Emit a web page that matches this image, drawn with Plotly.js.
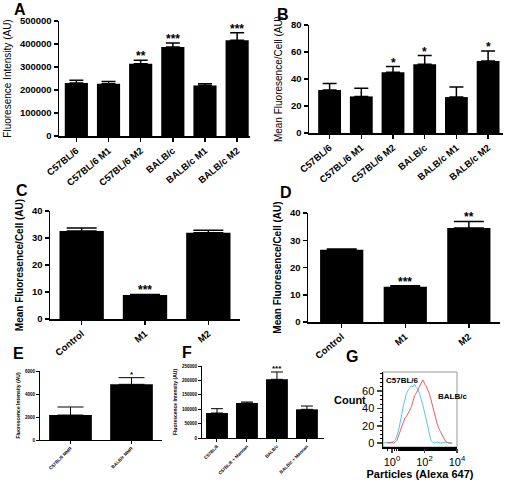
<!DOCTYPE html>
<html><head><meta charset="utf-8">
<script src="https://cdn.plot.ly/plotly-3.0.1.min.js"></script>
<style>html,body{margin:0;padding:0;background:#fff}#chart{width:507px;height:483px}</style>
</head><body><div id="chart"></div>
<script>
// ---------- DATA ----------
const strainCats = ['C57BL/6', 'C57BL/6 M1', 'C57BL/6 M2', 'BALB/c', 'BALB/c M1', 'BALB/c M2'];
const panelAVals = [230000, 227500, 314500, 387000, 220000, 416000];
const panelAErr  = [12000, 10000, 14500, 17000, 7000, 33000];
const panelASig  = ['', '', '**', '***', '', '***'];
const panelBVals = [31.8, 27.1, 45.0, 51.0, 26.6, 53.4];
const panelBErr  = [4.9, 6.1, 4.2, 6.4, 7.4, 7.4];
const panelBSig  = ['', '', '*', '*', '', '*'];
const polarCats  = ['Control', 'M1', 'M2'];
const panelCVals = [32.6, 8.9, 31.9];
const panelCErr  = [1.1, 0.2, 1.0];
const panelCSig  = ['', '***', ''];
const panelDVals = [26.5, 12.9, 34.5];
const panelDErr  = [0.3, 0.4, 2.4];
const panelDSig  = ['', '***', '**'];
const mmrCats    = ['C57BL/6 MMR', 'BALB/c MMR'];
const panelEVals = [2170, 4840];
const panelEErr  = [700, 580];
const panelESig  = ['', '*'];
const mannanCats = ['C57BL/6', 'C57BL/6 + Mannan', 'BALB/c', 'BALB/c + Mannan'];
const panelFVals = [86800, 121500, 203700, 99500];
const panelFErr  = [15000, 3500, 25500, 11500];
const panelFSig  = ['', '', '***', ''];
// Panel G histograms (particle intensity, count)
const c57Particles = [0.3, 0.5, 0.79, 1.0, 1.26, 1.6, 1.9, 2.5, 3.0, 4.0, 4.9, 6.3, 7.8, 10, 12.6, 15.5, 20, 24.5, 31.6, 39.8, 50, 63, 79, 100, 126, 158, 200, 251, 316, 398, 600, 1000, 2000, 5000];
const c57Count     = [0, 1, 0, 1, 2, 4, 7, 14, 23, 33, 42, 50, 57, 61, 64, 66, 65, 68, 64, 62, 57, 51, 44, 36, 27, 17, 9, 3, 1, 0, 1, 0, 1, 0];
const balbParticles = [0.5, 1.0, 1.26, 1.6, 2.0, 2.5, 3.2, 4.0, 5.0, 6.3, 7.9, 10, 12.6, 15.8, 20, 25, 31.6, 40, 50, 63, 79, 89, 100, 126, 158, 200, 251, 316, 398, 501, 631, 794, 1000, 1259, 1585, 1995, 2512, 3162, 5000];
const balbCount     = [0, 1, 0, 1, 3, 8, 15, 21, 26, 29, 31, 34, 38, 42, 49, 55, 58, 62, 66, 70, 73, 72, 68, 66, 62, 57, 50, 42, 34, 27, 21, 16, 12, 8, 4, 2, 1, 0, 0];
const histTickVals = [1, 100, 10000];
const histTickText = ['10<sup>0</sup>', '10<sup>2</sup>', '10<sup>4</sup>'];

// ---------- LAYOUT HELPERS ----------
const W = 507, H = 483;
const FONT = 'Liberation Sans, Arial, Helvetica, sans-serif';
const dx = (a, b) => [a / W, b / W];
const dy = (top, bottom) => [1 - bottom / H, 1 - top / H];

const traces = [];
const layout = {
  width: W, height: H, margin: {l: 0, r: 0, t: 0, b: 0},
  paper_bgcolor: '#fff', plot_bgcolor: 'rgba(0,0,0,0)',
  showlegend: false, font: {family: FONT, color: '#000'},
  annotations: [], shapes: []
};

function barPanel(n, cats, vals, errs, sigs, o) {
  const sx = n === 1 ? '' : String(n);
  const xa = 'x' + sx, ya = 'y' + sx;
  traces.push({
    type: 'bar', x: cats, y: vals, xaxis: xa, yaxis: ya,
    width: o.barWidth, marker: {color: '#000', line: {width: 0}},
    error_y: {type: 'data', symmetric: false, array: errs, arrayminus: errs.map(() => 0),
              color: '#000', thickness: o.lw, width: o.cap},
    hoverinfo: 'skip'
  });
  layout['xaxis' + sx] = {
    domain: dx(o.xPx[0], o.xPx[1]), anchor: ya, range: o.xRange,
    showline: true, linecolor: '#000', linewidth: o.lw, ticks: 'outside',
    ticklen: o.tl, tickwidth: o.lw, tickcolor: '#000', tickangle: o.angle,
    tickfont: {family: FONT, size: o.xFont, weight: 'bold'},
    showgrid: false, zeroline: false, fixedrange: true
  };
  layout['yaxis' + sx] = {
    domain: dy(o.yPx[0], o.yPx[1]), anchor: xa, range: o.yRange, dtick: o.dtick,
    tickformat: 'd', showline: true, linecolor: '#000', linewidth: o.lw,
    ticks: 'outside', ticklen: o.tl, tickwidth: o.lw, tickcolor: '#000',
    tickfont: {family: FONT, size: o.yFont, weight: 'bold'},
    title: {text: o.title, font: {family: FONT, size: o.titleFont, weight: o.titleWeight}, standoff: o.standoff},
    showgrid: false, zeroline: false, fixedrange: true
  };
  sigs.forEach((s, i) => {
    if (!s) return;
    layout.annotations.push({
      xref: xa, yref: ya, x: cats[i], y: vals[i] + errs[i], text: s, showarrow: false,
      yanchor: 'bottom', yshift: o.starShift, font: {family: FONT, size: o.starSize, weight: 'bold'}
    });
  });
}

barPanel(1, strainCats, panelAVals, panelAErr, panelASig, {
  xPx: [59, 250], yPx: [21, 136], xRange: [-0.54, 5.4], yRange: [0, 500000], dtick: 100000,
  barWidth: 0.72, lw: 1.5, tl: 4, cap: 7, angle: -40, xFont: 9.5, yFont: 9.5,
  title: 'Fluoresence Intensity (AU)', titleFont: 10, titleWeight: 'normal', standoff: 6,
  starSize: 12, starShift: -5
});
barPanel(2, strainCats, panelBVals, panelBErr, panelBSig, {
  xPx: [309, 503], yPx: [25, 133], xRange: [-0.65, 5.47], yRange: [0, 80], dtick: 20,
  barWidth: 0.72, lw: 1.5, tl: 4, cap: 7, angle: -40, xFont: 9.5, yFont: 9.5,
  title: 'Mean Fluoresence/Cell (AU)', titleFont: 10, titleWeight: 'normal', standoff: 6,
  starSize: 12, starShift: -5
});
barPanel(3, polarCats, panelCVals, panelCErr, panelCSig, {
  xPx: [50, 240], yPx: [211, 319], xRange: [-0.5, 2.5], yRange: [0, 40], dtick: 10,
  barWidth: 0.7, lw: 1.5, tl: 4, cap: 15, angle: -40, xFont: 9.5, yFont: 9.5,
  title: 'Mean Fluoresence/Cell (AU)', titleFont: 10, titleWeight: 'bold', standoff: 6,
  starSize: 12, starShift: -5
});
barPanel(4, polarCats, panelDVals, panelDErr, panelDSig, {
  xPx: [308, 500], yPx: [213, 322], xRange: [-0.53, 2.49], yRange: [0, 40], dtick: 10,
  barWidth: 0.68, lw: 1.5, tl: 4, cap: 15, angle: -40, xFont: 9.5, yFont: 9.5,
  title: 'Mean Fluoresence/Cell (AU)', titleFont: 10, titleWeight: 'bold', standoff: 6,
  starSize: 12, starShift: -5
});
barPanel(5, mmrCats, panelEVals, panelEErr, panelESig, {
  xPx: [40, 162], yPx: [371, 440], xRange: [-0.5, 1.5], yRange: [0, 6000], dtick: 2000,
  barWidth: 0.7, lw: 1, tl: 3, cap: 13, angle: -45, xFont: 4.5, yFont: 4.5,
  title: 'Fluorescence Intensity (AU)', titleFont: 5, titleWeight: 'bold', standoff: 4,
  starSize: 8, starShift: -3
});
barPanel(6, mannanCats, panelFVals, panelFErr, panelFSig, {
  xPx: [202, 324], yPx: [366, 438], xRange: [-0.5, 3.57], yRange: [0, 250000], dtick: 50000,
  barWidth: 0.73, lw: 1, tl: 3, cap: 6, angle: -45, xFont: 4.5, yFont: 4.5,
  title: 'Fluorescence Intensity (AU)', titleFont: 5, titleWeight: 'bold', standoff: 4,
  starSize: 8, starShift: -3
});

// Panel G histogram
traces.push({type: 'scatter', mode: 'lines', x: c57Particles, y: c57Count, xaxis: 'x7', yaxis: 'y7',
  line: {color: '#5cc6e6', width: 1}, hoverinfo: 'skip'});
traces.push({type: 'scatter', mode: 'lines', x: balbParticles, y: balbCount, xaxis: 'x7', yaxis: 'y7',
  line: {color: '#ea5d66', width: 1}, hoverinfo: 'skip'});
layout.xaxis7 = {
  domain: dx(383, 457), anchor: 'y7', type: 'log', range: [-0.55, 4.0],
  tickvals: histTickVals, ticktext: histTickText,
  showline: true, linecolor: '#000', linewidth: 1.5, ticks: 'outside', ticklen: 4, tickwidth: 1.5,
  minor: {ticks: 'outside', ticklen: 2, tickwidth: 1, tickcolor: '#000'},
  tickfont: {family: FONT, size: 11},
  title: {text: 'Particles (Alexa 647)', font: {family: FONT, size: 11, weight: 'bold'}, standoff: 2},
  showgrid: false, zeroline: false, fixedrange: true
};
layout.yaxis7 = {
  domain: dy(372, 447), anchor: 'x7', range: [-4.5, 82], tickvals: [0, 20, 40, 60],
  showline: true, linecolor: '#000', linewidth: 1.5, ticks: 'outside', ticklen: 5, tickwidth: 1.5,
  minor: {ticks: 'outside', ticklen: 2, tickwidth: 1, dtick: 5, tickcolor: '#000'},
  tickfont: {family: FONT, size: 11}, showgrid: false, zeroline: false, fixedrange: true
};
layout.shapes.push({type: 'rect', xref: 'x7 domain', yref: 'y7 domain', x0: 0, x1: 1, y0: 0, y1: 1,
  line: {color: '#999', width: 1}, layer: 'below'});
layout.annotations.push(
  {xref: 'x7 domain', yref: 'y7 domain', x: 0.02, y: 0.98, xanchor: 'left', yanchor: 'top',
   text: 'C57BL/6', showarrow: false, font: {family: FONT, size: 8, weight: 'bold'}},
  {xref: 'x7 domain', yref: 'y7 domain', x: 0.72, y: 0.68, xanchor: 'left', yanchor: 'middle',
   text: 'BALB/c', showarrow: false, font: {family: FONT, size: 8, weight: 'bold'}},
  {xref: 'paper', yref: 'paper', x: 350 / W, y: 1 - 400 / H, xanchor: 'center', yanchor: 'middle',
   text: 'Count', showarrow: false, font: {family: FONT, size: 11, weight: 'bold'}}
);

// Panel letters
[['A', 12, 10], ['B', 275, 14], ['C', 14, 190], ['D', 278, 192], ['E', 11, 353], ['F', 180, 352], ['G', 344, 356]]
  .forEach(([t, x, y]) => layout.annotations.push({
    xref: 'paper', yref: 'paper', x: x / W, y: 1 - y / H, xanchor: 'left', yanchor: 'middle',
    text: t, showarrow: false, font: {family: FONT, size: 16, weight: 'bold'}
  }));

Plotly.newPlot('chart', traces, layout, {staticPlot: true, displayModeBar: false});
</script></body></html>
